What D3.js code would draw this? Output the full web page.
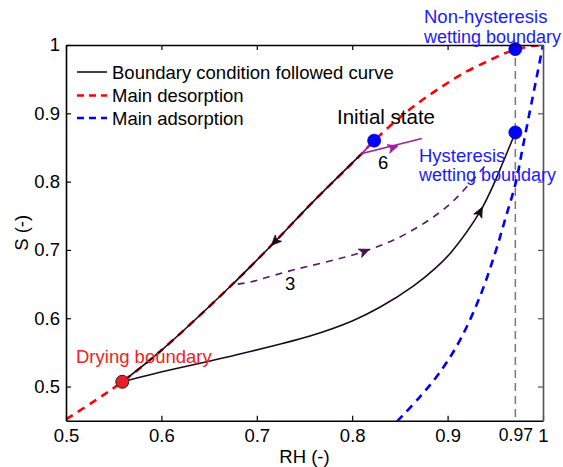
<!DOCTYPE html>
<html><head><meta charset="utf-8">
<script src="https://cdn.jsdelivr.net/npm/d3@7"></script>
<style>body{margin:0;background:#fff;}svg{display:block;font-family:"Liberation Sans",Arial,sans-serif;}</style>
</head><body>
<svg id="chart" width="563" height="467"></svg>
<script>
// ---- data ----
const xTicks = [0.5, 0.6, 0.7, 0.8, 0.9, 1];
const xTickLabels = ["0.5", "0.6", "0.7", "0.8", "0.9", "1"];
const extraXTick = [0.971];
const extraXTickLabels = ["0.97"];
const yTicks = [0.5, 0.6, 0.7, 0.8, 0.9, 1];
const yTickLabels = ["0.5", "0.6", "0.7", "0.8", "0.9", "1"];

const desorptionRH = [0.5, 0.53, 0.559, 0.6, 0.6737, 0.719, 0.7558, 0.81, 0.823, 0.85, 0.871, 0.894, 0.9165, 0.941, 0.96, 0.972, 0.985, 1.0];
const desorptionS  = [0.452, 0.479, 0.507, 0.553, 0.6486, 0.712, 0.766, 0.841, 0.86, 0.894, 0.917, 0.939, 0.9586, 0.9756, 0.988, 0.993, 0.998, 1.0];

const adsorptionRH = [0.847, 0.871, 0.892, 0.913, 0.934, 0.9497, 0.961, 0.9717, 0.9786, 0.9864, 0.9934, 1.0];
const adsorptionS  = [0.449, 0.485, 0.521, 0.568, 0.632, 0.695, 0.748, 0.80, 0.849, 0.904, 0.953, 1.0];

const dryingPathRH = [0.559, 0.6, 0.6737, 0.719, 0.7558, 0.81];
const dryingPathS  = [0.507, 0.553, 0.6486, 0.712, 0.766, 0.841];

const wettingPathRH = [0.559, 0.5985, 0.668, 0.7558, 0.80, 0.829, 0.864, 0.887, 0.904, 0.934, 0.946, 0.958, 0.971];
const wettingPathS  = [0.507, 0.521, 0.543, 0.574, 0.596, 0.616, 0.647, 0.673, 0.697, 0.756, 0.789, 0.828, 0.872];

const path3RH = [0.68, 0.693, 0.731, 0.813, 0.857, 0.899, 0.925, 0.9427];
const path3S  = [0.650, 0.653, 0.668, 0.698, 0.724, 0.763, 0.800, 0.829];

const path6RH = [0.823, 0.81, 0.873];
const path6S  = [0.86, 0.841, 0.863];

const refLineRH = 0.971;

// arrows: position and a target point giving direction
const arrows = [
  {rh: 0.719, s: 0.712, toRH: 0.6737, toS: 0.6486, color: "#1a0a1a"},
  {rh: 0.934, s: 0.756, toRH: 0.946, toS: 0.789, color: "#1a0a1a"},
  {rh: 0.813, s: 0.698, toRH: 0.857, toS: 0.724, color: "#4a1050"},
  {rh: 0.843, s: 0.850, toRH: 0.873, toS: 0.863, color: "#a020a0"}
];

const pointsBlue = [
  {rh: 0.823, s: 0.86},
  {rh: 0.971, s: 0.994},
  {rh: 0.971, s: 0.872}
];
const pointRed = {rh: 0.559, s: 0.507};

const legendItems = ["Boundary condition followed curve", "Main desorption", "Main adsorption"];

// ---- layout ----
const svg = d3.select("#chart");
const L = 66, R = 543, T = 45, B = 420.7;
const x = d3.scaleLinear().domain([0.5, 1]).range([L, R]);
const y = d3.scaleLinear().domain([0.45, 1]).range([B, T]);
const FS = 18.5;

const zip = (a, b) => a.map((v, i) => [v, b[i]]);
const line = d3.line().x(d => x(d[0])).y(d => y(d[1])).curve(d3.curveCatmullRom.alpha(0.5));
const lineLin = d3.line().x(d => x(d[0])).y(d => y(d[1]));

const defs = svg.append("defs");
defs.append("clipPath").attr("id", "clip").append("rect")
  .attr("x", L).attr("y", T).attr("width", R - L).attr("height", B - T);

const plot = svg.append("g").attr("clip-path", "url(#clip)");

// reference vertical dashed line
plot.append("line").attr("x1", x(refLineRH)).attr("x2", x(refLineRH))
  .attr("y1", T).attr("y2", B).attr("stroke", "#777").attr("stroke-width", 1.5)
  .attr("stroke-dasharray", "8,5");

// main desorption
plot.append("path").attr("d", line(zip(desorptionRH, desorptionS)))
  .attr("fill", "none").attr("stroke", "#ff0000").attr("stroke-width", 2.6)
  .attr("stroke-dasharray", "8,6");
// main adsorption
plot.append("path").attr("d", line(zip(adsorptionRH, adsorptionS)))
  .attr("fill", "none").attr("stroke", "#0000ff").attr("stroke-width", 2.6)
  .attr("stroke-dasharray", "8,6");

// path 3 (purple dashed)
plot.append("path").attr("d", line(zip(path3RH, path3S)))
  .attr("fill", "none").attr("stroke", "#5a1a60").attr("stroke-width", 1.6)
  .attr("stroke-dasharray", "7,6");

// drying path (black)
plot.append("path").attr("d", line(zip(dryingPathRH, dryingPathS)))
  .attr("fill", "none").attr("stroke", "#1a0a1a").attr("stroke-width", 1.6);
// wetting path (black)
plot.append("path").attr("d", line(zip(wettingPathRH, wettingPathS)))
  .attr("fill", "none").attr("stroke", "#1a0a1a").attr("stroke-width", 1.6);
// path 6 (magenta)
plot.append("path").attr("d", lineLin(zip(path6RH, path6S)))
  .attr("fill", "none").attr("stroke", "#a020a0").attr("stroke-width", 1.6);

// arrows
arrows.forEach(a => {
  const px = x(a.rh), py = y(a.s);
  const ang = Math.atan2(y(a.toS) - py, x(a.toRH) - px) * 180 / Math.PI;
  svg.append("path")
    .attr("d", "M5,0 L-5,-4.5 L-2.5,0 L-5,4.5 Z")
    .attr("transform", `translate(${px},${py}) rotate(${ang})`)
    .attr("fill", a.color).attr("stroke", a.color).attr("stroke-width", 0.8);
});

// points
svg.selectAll("circle.blue").data(pointsBlue).enter().append("circle")
  .attr("cx", d => x(d.rh)).attr("cy", d => y(d.s)).attr("r", 6.5)
  .attr("fill", "#0000ff").attr("stroke", "#0000cc").attr("stroke-width", 0.8);
svg.append("circle").attr("cx", x(pointRed.rh)).attr("cy", y(pointRed.s)).attr("r", 6.5)
  .attr("fill", "#ec1c24").attr("stroke", "#222").attr("stroke-width", 1);

// ---- axes ----
const styleAxis = (g, color) => {
  g.select(".domain").attr("stroke", color).attr("stroke-width", 1.6);
  g.selectAll(".tick line").attr("stroke", color).attr("stroke-width", 1.2);
  g.selectAll(".tick text").attr("font-size", FS).attr("fill", "#000").attr("font-family", "Liberation Sans, Arial, sans-serif");
};
const gx = svg.append("g").attr("transform", `translate(0,${B})`)
  .call(d3.axisBottom(x).tickValues(xTicks).tickFormat((d, i) => xTickLabels[i]).tickSizeInner(-5).tickSizeOuter(0).tickPadding(8));
styleAxis(gx, "#000");
const gx2 = svg.append("g").attr("transform", `translate(0,${B})`)
  .call(d3.axisBottom(x).tickValues(extraXTick).tickFormat((d, i) => extraXTickLabels[i]).tickSize(0).tickPadding(8));
gx2.select(".domain").remove();
styleAxis(gx2, "#000");
gx2.selectAll(".tick text").attr("font-size", 17.5);

const gy = svg.append("g").attr("transform", `translate(${L},0)`)
  .call(d3.axisLeft(y).tickValues(yTicks).tickFormat((d, i) => yTickLabels[i]).tickSizeInner(-5).tickSizeOuter(0).tickPadding(6));
styleAxis(gy, "#000");
const gt = svg.append("g").attr("transform", `translate(0,${T})`)
  .call(d3.axisTop(x).tickValues(xTicks).tickFormat("").tickSizeInner(-5).tickSizeOuter(0));
styleAxis(gt, "#000");
const gr = svg.append("g").attr("transform", `translate(${R},0)`)
  .call(d3.axisRight(y).tickValues(yTicks).tickFormat("").tickSizeInner(-5).tickSizeOuter(0));
styleAxis(gr, "#555");

// axis titles
svg.append("text").attr("x", (L + R) / 2).attr("y", 463).attr("text-anchor", "middle")
  .attr("font-size", FS).text("RH (-)");
svg.append("text").attr("transform", `translate(28,${(T + B) / 2}) rotate(-90)`)
  .attr("text-anchor", "middle").attr("font-size", FS).text("S (-)");

// legend
const legColors = ["#1a0a1a", "#ff0000", "#0000ff"];
const legDash = [null, "7,5", "7,5"];
const legY = [72, 95.5, 118];
const legW = [1.6, 2.6, 2.6];
legendItems.forEach((t, i) => {
  svg.append("line").attr("x1", 77).attr("x2", 107).attr("y1", legY[i]).attr("y2", legY[i])
    .attr("stroke", legColors[i]).attr("stroke-width", legW[i]).attr("stroke-dasharray", legDash[i]);
  svg.append("text").attr("x", 112).attr("y", legY[i] + 6.5).attr("font-size", FS).attr("fill", "#000").text(t);
});

// annotations
const ann = [
  {t: "Non-hysteresis", dx: 424, dy: 23, c: "#1a1aff", fs: FS},
  {t: "wetting boundary", dx: 424, dy: 43, c: "#1a1aff", fs: 18},
  {t: "Initial state", dx: 337, dy: 124, c: "#000", fs: 20.5},
  {t: "6", dx: 378, dy: 169, c: "#000", fs: FS},
  {t: "Hysteresis", dx: 419, dy: 162, c: "#1a1aff", fs: FS},
  {t: "wetting boundary", dx: 419, dy: 181, c: "#1a1aff", fs: 18},
  {t: "3", dx: 285, dy: 290, c: "#000", fs: FS},
  {t: "Drying boundary", dx: 76, dy: 363, c: "#ee2222", fs: FS}
];
ann.forEach(a => {
  svg.append("text").attr("x", a.dx).attr("y", a.dy).attr("font-size", a.fs).attr("fill", a.c).text(a.t);
});
</script>
</body></html>
